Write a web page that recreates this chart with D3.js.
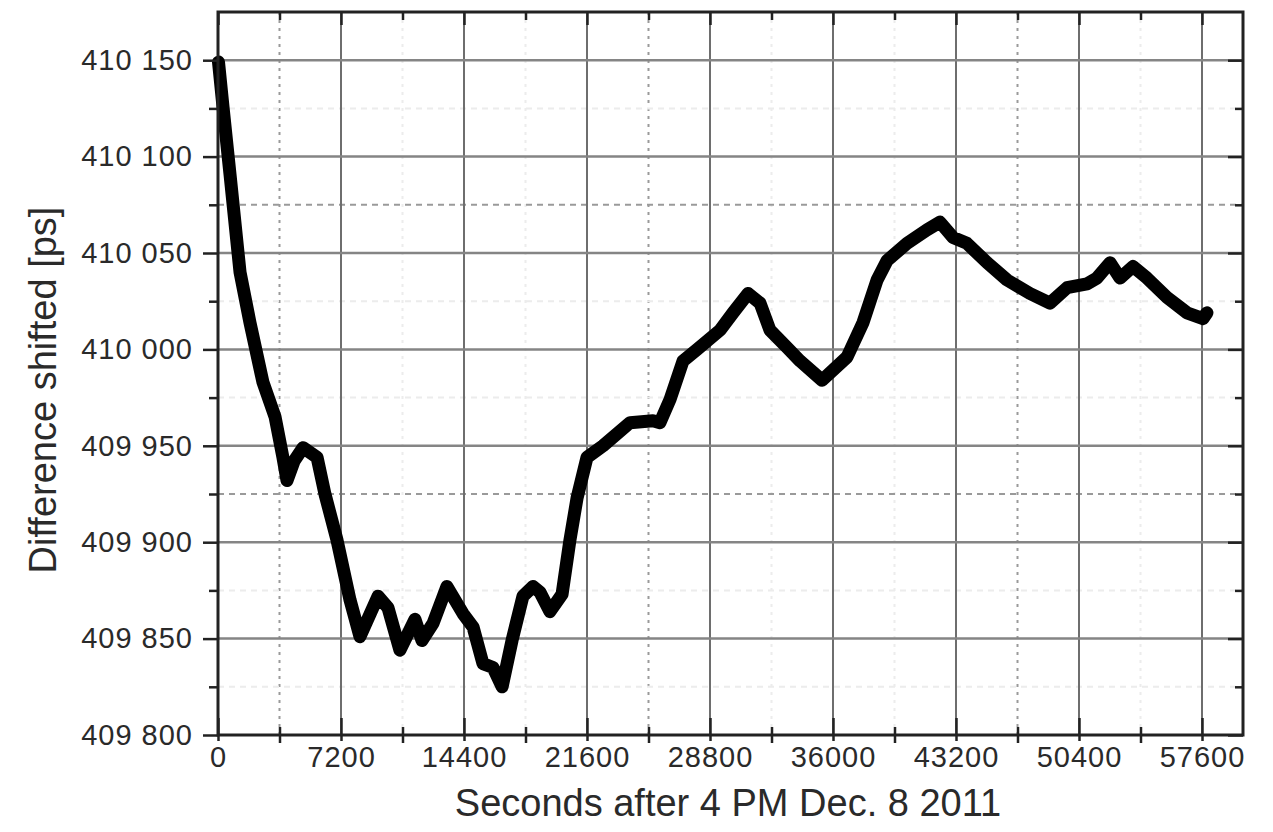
<!DOCTYPE html>
<html>
<head>
<meta charset="utf-8">
<script src="https://cdn.jsdelivr.net/npm/d3@7"></script>
<style>
  body { margin: 0; background: white; }
  text { font-family: "Liberation Sans", Arial, sans-serif; }
</style>
</head>
<body>
<script>
// seconds after 4 PM
let seconds = [30, 290, 700, 1290, 1870, 2630, 3340, 3800, 4040, 4450, 4980, 5800, 6260, 6970,
    7730, 8310, 9370, 9950, 10650, 11530, 11940, 12590, 13400, 14340, 14930, 15510, 16100, 16630,
    17210, 17850, 18440, 18850, 19430, 20140, 20600, 21020, 21600, 22540, 24120, 25460, 25870,
    26460, 27220, 28040, 29390, 30150, 31030, 31730, 32310, 33310, 34070, 35360, 36820, 37760,
    38580, 39160, 40330, 41500, 42260, 43030, 43840, 45020, 46190, 47530, 48700, 49700, 50870,
    51450, 52220, 52800, 53560, 54380, 55550, 56720, 57660, 57890];
// difference shifted [ps]
let diffPs = [410149, 410126, 410091, 410040, 410014, 409983, 409965, 409944, 409932, 409942,
    409949, 409944, 409925, 409901, 409870, 409851, 409872, 409866, 409844, 409860, 409849,
    409858, 409877, 409863, 409856, 409837, 409835, 409825, 409849, 409872, 409877, 409874,
    409864, 409873, 409901, 409923, 409944, 409950, 409962, 409963, 409962, 409974, 409994,
    410000, 410010, 410019, 410029, 410024, 410010, 410001, 409994, 409984, 409996, 410014,
    410036, 410046, 410055, 410062, 410066, 410058, 410055, 410045, 410036, 410029, 410024,
    410032, 410034, 410037, 410045, 410037, 410043, 410037, 410027, 410019, 410016, 410019];

let xTicks = [0, 7200, 14400, 21600, 28800, 36000, 43200, 50400, 57600];
let xMinor = [3600, 10800, 18000, 25200, 32400, 39600, 46800, 54000];
let yTicks = [409800, 409850, 409900, 409950, 410000, 410050, 410100, 410150];
let yMinor = [409825, 409875, 409925, 409975, 410025, 410075, 410125];

function init() {
    let canvasW = 1273;
    let canvasH = 832;
    let left = 218, right = 1243, top = 12, bottom = 735;

    let svg = d3.select("body").append("svg")
        .attr("width", canvasW)
        .attr("height", canvasH)
        .style("background-color", "white");

    let x = d3.scaleLinear().domain([0, 60000]).range([left, right]);
    let y = d3.scaleLinear().domain([409800, 410175]).range([bottom, top]);

    let points = seconds.map((s, i) => [s, diffPs[i]]);

    // faint minor grid
    svg.append("g").selectAll("line")
        .data(xMinor)
        .enter().append("line")
        .attr("x1", d => x(d)).attr("x2", d => x(d))
        .attr("y1", top).attr("y2", bottom)
        .attr("stroke", d => (d == 3600 || d == 25200 || d == 46800) ? "#9a9a9a" : "#ececec")
        .attr("stroke-width", 2)
        .attr("stroke-dasharray", "3,5");

    svg.append("g").selectAll("line")
        .data(yMinor)
        .enter().append("line")
        .attr("x1", left).attr("x2", right)
        .attr("y1", d => y(d)).attr("y2", d => y(d))
        .attr("stroke", d => (d == 410075 || d == 409925) ? "#9a9a9a" : "#ececec")
        .attr("stroke-width", 2)
        .attr("stroke-dasharray", "6,5");

    // major grid
    svg.append("g").selectAll("line")
        .data(xTicks.slice(1))
        .enter().append("line")
        .attr("x1", d => x(d)).attr("x2", d => x(d))
        .attr("y1", top).attr("y2", bottom)
        .attr("stroke", "#6e6e6e")
        .attr("stroke-width", 2);

    svg.append("g").selectAll("line")
        .data(yTicks.slice(1))
        .enter().append("line")
        .attr("x1", left).attr("x2", right)
        .attr("y1", d => y(d)).attr("y2", d => y(d))
        .attr("stroke", "#858585")
        .attr("stroke-width", 2.5);

    // data
    let line = d3.line().x(d => x(d[0])).y(d => y(d[1]));
    svg.append("path")
        .datum(points)
        .attr("fill", "none")
        .attr("stroke", "black")
        .attr("stroke-width", 13)
        .attr("stroke-linejoin", "round")
        .attr("stroke-linecap", "round")
        .attr("d", line);

    // axes
    let locale = d3.formatLocale({ decimal: ".", thousands: " ", grouping: [3], currency: ["", ""] });
    let yFmt = locale.format(",");

    let styleAxis = g => {
        g.select(".domain").remove();
        g.selectAll(".tick line").attr("stroke", "#222").attr("stroke-width", 2.5);
        g.selectAll(".tick text")
            .attr("fill", "#2a2a2a")
            .attr("font-size", "29px")
            .attr("letter-spacing", "1px")
            .attr("font-family", "Liberation Sans, Arial, sans-serif");
    };

    svg.append("g").attr("transform", `translate(${left},0)`)
        .call(d3.axisLeft(y).tickValues(yTicks).tickSize(15).tickPadding(10).tickFormat(yFmt))
        .call(styleAxis);
    svg.append("g").attr("transform", `translate(${left},0)`)
        .call(d3.axisLeft(y).tickValues(yMinor).tickSize(9).tickFormat(""))
        .call(styleAxis);
    svg.append("g").attr("transform", `translate(${right},0)`)
        .call(d3.axisRight(y).tickValues(yTicks).tickSize(-15).tickFormat(""))
        .call(styleAxis);
    svg.append("g").attr("transform", `translate(${right},0)`)
        .call(d3.axisRight(y).tickValues(yMinor).tickSize(-8).tickFormat(""))
        .call(styleAxis);

    svg.append("g").attr("transform", `translate(0,${bottom})`)
        .call(d3.axisBottom(x).tickValues(xTicks).tickSize(6).tickPadding(5).tickFormat(d3.format("d")))
        .call(styleAxis);
    svg.append("g").attr("transform", `translate(0,${bottom})`)
        .call(d3.axisBottom(x).tickValues(xTicks).tickSize(-17).tickFormat(""))
        .call(styleAxis);
    svg.append("g").attr("transform", `translate(0,${bottom - 8})`)
        .call(d3.axisBottom(x).tickValues(xMinor).tickSize(16).tickFormat(""))
        .call(styleAxis);
    svg.append("g").attr("transform", `translate(0,${top})`)
        .call(d3.axisTop(x).tickValues(xTicks).tickSize(-13).tickFormat(""))
        .call(styleAxis);
    svg.append("g").attr("transform", `translate(0,${top})`)
        .call(d3.axisTop(x).tickValues(xMinor).tickSize(-8).tickFormat(""))
        .call(styleAxis);

    // frame
    svg.append("rect")
        .attr("x", left).attr("y", top)
        .attr("width", right - left).attr("height", bottom - top)
        .attr("fill", "none")
        .attr("stroke", "#222")
        .attr("stroke-width", 3);

    // titles
    svg.append("text")
        .attr("x", 728)
        .attr("y", 816)
        .attr("text-anchor", "middle")
        .attr("font-size", "38px")
        .attr("fill", "#2a2a2a")
        .text("Seconds after 4 PM Dec. 8 2011");

    svg.append("text")
        .attr("transform", "translate(56,390) rotate(-90)")
        .attr("text-anchor", "middle")
        .attr("font-size", "38px")
        .attr("fill", "#2a2a2a")
        .text("Difference shifted [ps]");
}

init();
</script>
</body>
</html>
